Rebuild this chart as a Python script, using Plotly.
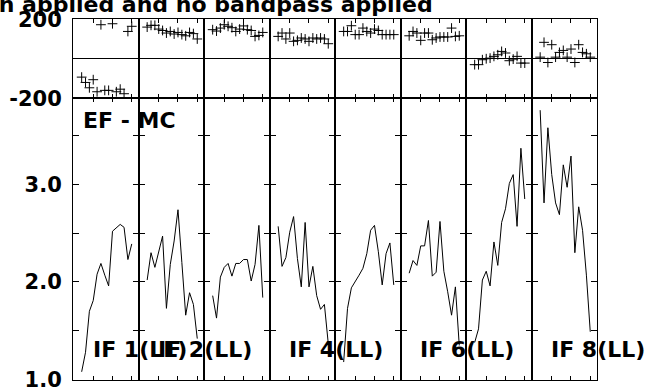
import plotly.graph_objects as go
from plotly.subplots import make_subplots

# channels shown in every IF panel (edge channels dropped)
chans = list(range(2, 16))

if_labels = ["IF 1(LL)", "IF 2(LL)", "", "IF 4(LL)", "", "IF 6(LL)", "", "IF 8(LL)"]

amp_if1 = [1.08, 1.28, 1.70, 1.81, 2.08, 2.19, 2.07, 1.96, 2.52, 2.56, 2.59, 2.56, 2.23, 2.39]
amp_if2 = [2.02, 2.30, 2.15, 2.31, 2.47, 1.73, 2.18, 2.42, 2.74, 2.20, 1.66, 1.89, 1.77, 1.42]
amp_if3 = [1.86, 1.63, 2.05, 2.15, 2.19, 2.06, 2.19, 2.19, 2.23, 2.23, 2.01, 2.18, 2.58, 1.84]
amp_if4 = [2.57, 2.16, 2.25, 2.51, 2.67, 2.24, 1.95, 2.61, 1.95, 2.16, 1.86, 1.72, 1.77, 1.37]
amp_if5 = [1.18, 1.73, 1.94, 2.00, 2.07, 2.14, 2.29, 2.53, 2.58, 2.31, 1.97, 2.29, 2.40, 1.97]
amp_if6 = [2.09, 2.22, 2.17, 2.37, 2.37, 2.63, 2.06, 2.10, 2.62, 2.11, 1.90, 1.66, 1.95, 1.35]
amp_if7 = [1.38, 1.52, 2.02, 2.11, 1.96, 2.41, 2.17, 2.61, 2.75, 3.01, 3.10, 2.57, 3.37, 2.85]
amp_if8 = [3.76, 2.81, 3.58, 3.10, 2.81, 2.69, 3.20, 2.97, 3.29, 2.30, 2.77, 2.53, 2.07, 1.49]

ph_if1 = [-93, -120, -147, -106, -167, 172, -160, -160, 177, -167, -154, -177, 138, 164]
ph_if2 = [160, 169, 169, 150, 143, 130, 138, 125, 133, 122, 116, 133, 127, 100]
ph_if3 = [147, 140, 155, 172, 164, 157, 138, 150, 166, 147, 143, 113, 118, 133]
ph_if4 = [113, 130, 100, 130, 88, 93, 105, 100, 88, 105, 100, 105, 100, 76]
ph_if5 = [138, 138, 167, 122, 122, 155, 138, 130, 150, 143, 122, 122, 122, 122]
ph_if6 = [116, 138, 130, 93, 130, 130, 96, 105, 110, 110, 110, 155, 113, 116]
ph_if7 = [-30, -30, -5, 0, 3, 12, 20, 37, 29, -10, -2, 12, -22, -22]
ph_if8 = [8, 83, -19, 71, 8, 32, 42, 8, 49, -19, 71, 32, 25, 8]

amps = [amp_if1, amp_if2, amp_if3, amp_if4, amp_if5, amp_if6, amp_if7, amp_if8]
phases = [ph_if1, ph_if2, ph_if3, ph_if4, ph_if5, ph_if6, ph_if7, ph_if8]

FONT = "DejaVu Sans"

fig = make_subplots(rows=2, cols=8, horizontal_spacing=0, vertical_spacing=0,
                    row_heights=[79.4, 281.3])

for i in range(8):
    fig.add_trace(go.Scatter(x=chans, y=phases[i], mode="markers",
                             marker=dict(symbol="cross-thin-open", size=7, color="black",
                                         line=dict(width=1, color="black"))),
                  row=1, col=i + 1)
    fig.add_trace(go.Scatter(x=chans, y=amps[i], mode="lines",
                             line=dict(width=1, color="black")),
                  row=2, col=i + 1)

xax = dict(range=[-0.25, 16.75], tickvals=[5, 10, 15], ticks="inside", ticklen=4,
           tickcolor="black", showticklabels=False, showline=True, mirror="ticks",
           linecolor="black", linewidth=1, showgrid=False, zeroline=False,
           automargin=False)
fig.update_xaxes(**xax)

tickfont = dict(family=FONT, size=21, color="black", weight="bold")
for i in range(8):
    first = i == 0
    fig.update_yaxes(row=1, col=i + 1, range=[-201, 201], tickvals=[-200, 200],
                     ticktext=["-200", "200"],
                     ticks="", showticklabels=first, tickfont=tickfont,
                     ticklabelstandoff=6, ticklabeloverflow="allow",
                     showline=True, mirror=True,
                     linecolor="black", linewidth=1, showgrid=False,
                     zeroline=True, zerolinecolor="black", zerolinewidth=1,
                     automargin=False)
    fig.update_yaxes(row=2, col=i + 1, range=[0.996, 3.88],
                     tickvals=[1.0, 1.5, 2.0, 2.5, 3.0, 3.5],
                     ticktext=["1.0", "", "2.0", "", "3.0", ""],
                     ticks="inside", ticklen=6, tickcolor="black",
                     showticklabels=first, tickfont=tickfont, ticklabelstandoff=6,
                     ticklabeloverflow="allow",
                     showline=True, mirror="ticks", linecolor="black", linewidth=1,
                     showgrid=False, zeroline=False, automargin=False)

lab = dict(family=FONT, size=22, color="black", weight="bold")
annots = []
for i, t in enumerate(if_labels):
    if not t:
        continue
    annots.append(dict(text=t, xref=f"x{9 + i} domain", yref=f"y{9 + i} domain",
                       x=0.27, y=0.11, xanchor="left", yanchor="middle",
                       showarrow=False, font=lab))
annots.append(dict(text="EF - MC", xref="x9 domain", yref="y9 domain",
                   x=0.127, y=0.921, xanchor="left", yanchor="middle",
                   showarrow=False, font=lab))
annots.append(dict(text="No calibration applied and no bandpass applied",
                   xref="paper", yref="paper", x=0.691, y=1, yshift=0,
                   xanchor="right", yanchor="bottom", showarrow=False, font=lab))

fig.update_layout(width=645, height=391, showlegend=False,
                  margin=dict(l=73, r=48, t=19, b=11),
                  plot_bgcolor="white", paper_bgcolor="white",
                  annotations=annots)

fig.write_html("out.html", config={"displayModeBar": False},
               post_script="document.body.style.margin='0';")
